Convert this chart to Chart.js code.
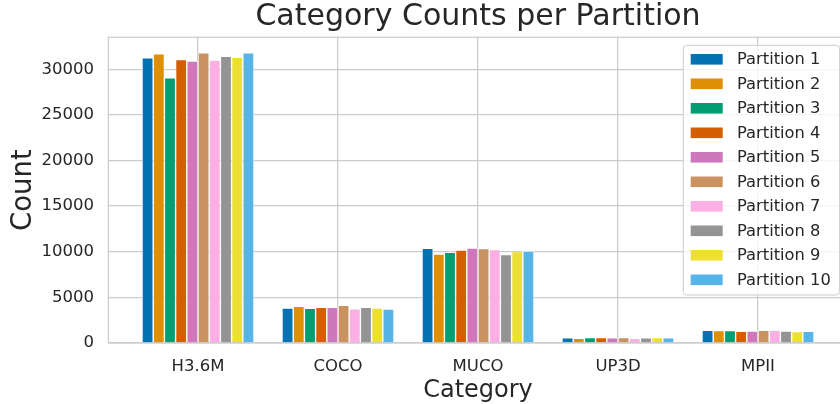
<!DOCTYPE html>
<html>
<head>
<meta charset="utf-8">
<script src="https://cdn.jsdelivr.net/npm/chart.js@4.4.1/dist/chart.umd.min.js"></script>
<style>
  html, body { margin: 0; padding: 0; background: #ffffff; overflow: hidden; }
  #wrap { width: 840px; height: 404px; overflow: hidden; position: relative; }
  canvas { display: block; }
</style>
</head>
<body>
<div id="wrap"><canvas id="chart" width="860" height="404"></canvas></div>
<script>
// Dataset categories and per-partition counts
const categories = ['H3.6M', 'COCO', 'MUCO', 'UP3D', 'MPII'];
const partitionLabels = ['Partition 1', 'Partition 2', 'Partition 3', 'Partition 4', 'Partition 5',
                         'Partition 6', 'Partition 7', 'Partition 8', 'Partition 9', 'Partition 10'];
const partition1  = [31240, 3840, 10380, 560, 1390];
const partition2  = [31680, 4020,  9760, 520, 1360];
const partition3  = [29050, 3800,  9940, 590, 1360];
const partition4  = [31050, 3910, 10190, 590, 1280];
const partition5  = [30910, 3910, 10410, 560, 1315];
const partition6  = [31800, 4130, 10340, 590, 1390];
const partition7  = [31020, 3760, 10230, 520, 1390];
const partition8  = [31420, 3910,  9680, 560, 1315];
const partition9  = [31310, 3840, 10010, 590, 1250];
const partition10 = [31800, 3730, 10080, 560, 1280];
const yTicks = [0, 5000, 10000, 15000, 20000, 25000, 30000];

const seriesValues = [partition1, partition2, partition3, partition4, partition5,
                      partition6, partition7, partition8, partition9, partition10];
const palette = ['#0173B2', '#DE8F05', '#029E73', '#D55E00', '#CC78BC',
                 '#CA9161', '#FBAFE4', '#949494', '#ECE133', '#56B4E9'];

const TEXT = '#262626';
const GRID = '#cccccc';
const FONT = "'DejaVu Sans', sans-serif";

Chart.defaults.font.family = FONT;
Chart.defaults.color = TEXT;

// Light-grey frame around the plotting area, drawn over the bars
const framePlugin = {
  id: 'frame',
  afterDatasetsDraw(chart) {
    const { ctx, chartArea: a } = chart;
    ctx.save();
    ctx.strokeStyle = GRID;
    ctx.lineWidth = 1.25;
    ctx.strokeRect(a.left, a.top, a.right - a.left, a.bottom - a.top);
    ctx.restore();
  }
};

// Legend box placed inside the upper-right corner of the plot
const insideLegend = {
  id: 'insideLegend',
  afterDraw(chart) {
    const { ctx, chartArea: a } = chart;
    const right = a.right - 8;
    const top = a.top + 8;
    const left = right - 156.3;
    const rowH = 24.5;
    const h = 249.7;
    ctx.save();
    ctx.beginPath();
    ctx.roundRect(left, top, right - left, h, 3.5);
    ctx.fillStyle = 'rgba(255,255,255,0.8)';
    ctx.fill();
    ctx.strokeStyle = GRID;
    ctx.lineWidth = 1;
    ctx.stroke();
    ctx.font = '16.3px ' + FONT;
    ctx.textBaseline = 'middle';
    ctx.textAlign = 'left';
    chart.data.datasets.forEach((ds, k) => {
      const cy = top + 14 + k * rowH;
      ctx.fillStyle = ds.backgroundColor;
      ctx.fillRect(left + 7.4, cy - 5.3, 32, 10.6);
      ctx.fillStyle = TEXT;
      ctx.fillText(ds.label, left + 53.7, cy + 0.5);
    });
    ctx.restore();
  }
};

new Chart(document.getElementById('chart').getContext('2d'), {
  type: 'bar',
  data: {
    datasets: seriesValues.map((vals, k) => ({
      label: partitionLabels[k],
      data: vals.map((v, i) => ({ x: i, y: v })),
      backgroundColor: palette[k],
      borderColor: '#ffffff',
      borderWidth: 0.7,
      categoryPercentage: 0.8,
      barPercentage: 1.0
    }))
  },
  options: {
    responsive: false,
    animation: false,
    layout: { padding: { left: 0, right: 12.4, top: 0, bottom: 0 } },
    plugins: {
      legend: { display: false },
      tooltip: { enabled: false },
      title: {
        display: true,
        text: 'Category Counts per Partition',
        fullSize: false,
        color: TEXT,
        font: { size: 30, weight: 'normal', family: FONT, lineHeight: 1.0 },
        padding: { top: 2.6, bottom: 4.7 }
      }
    },
    scales: {
      x: {
        type: 'linear',
        min: -0.64,
        max: 4.64,
        offset: false,
        afterBuildTicks: s => { s.ticks = categories.map((_, i) => ({ value: i })); },
        afterFit: s => { s.height = 61; },
        grid: { color: GRID, lineWidth: 1.25, drawTicks: false, offset: false },
        border: { display: false },
        ticks: {
          callback: v => categories[v] ?? '',
          font: { size: 16.5 },
          color: TEXT,
          padding: 14,
          maxRotation: 0,
          autoSkip: false
        },
        title: {
          display: true,
          text: 'Category',
          color: TEXT,
          font: { size: 24, lineHeight: 1.0 },
          padding: { top: 0, bottom: 1 }
        }
      },
      y: {
        min: 0,
        max: 33500,
        afterBuildTicks: s => { s.ticks = yTicks.map(v => ({ value: v })); },
        afterFit: s => { s.width = 108.4; },
        grid: { color: GRID, lineWidth: 1.25, drawTicks: false },
        border: { display: false },
        ticks: {
          callback: v => String(v),
          font: { size: 16.5 },
          color: TEXT,
          padding: 14.5
        },
        title: {
          display: true,
          text: 'Count',
          color: TEXT,
          font: { size: 27.5, lineHeight: 1.2 },
          padding: { top: 7.5, bottom: 0 }
        }
      }
    }
  },
  plugins: [framePlugin, insideLegend]
});
</script>
</body>
</html>
